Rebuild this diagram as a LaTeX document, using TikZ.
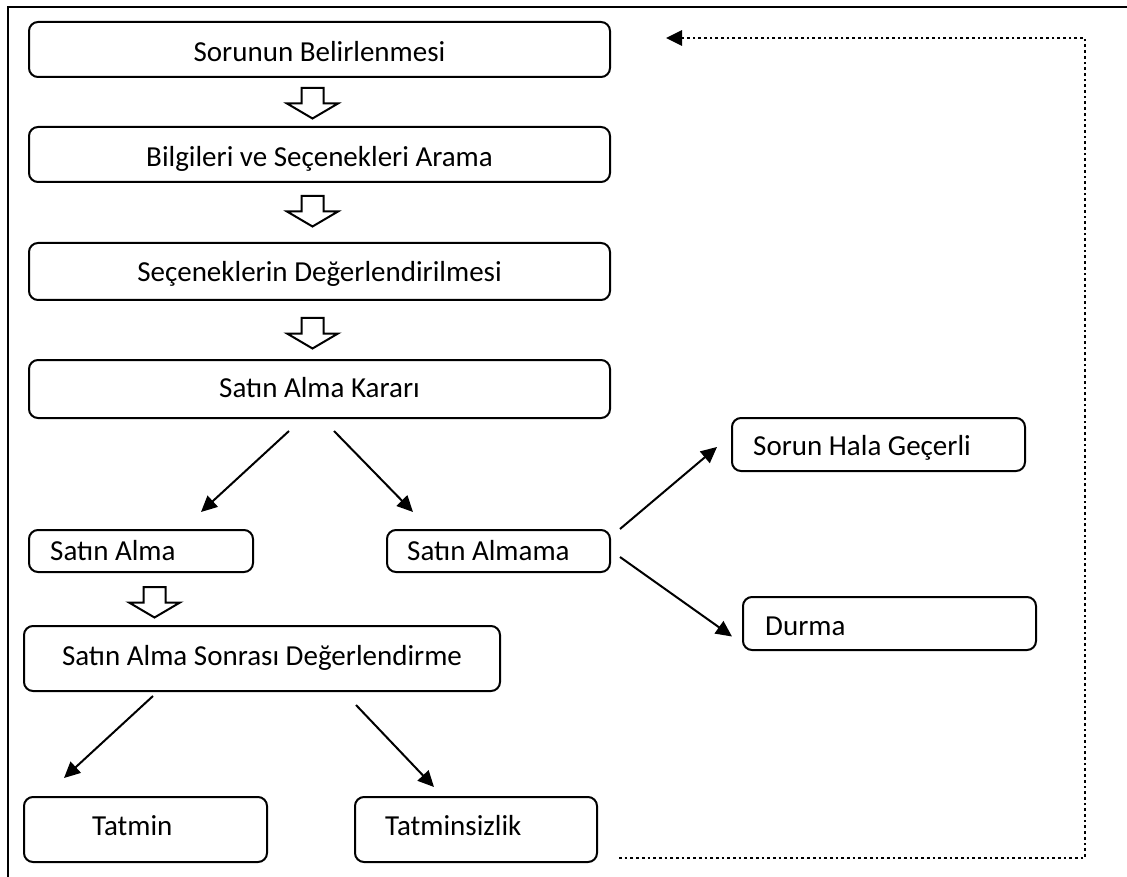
\documentclass[tikz,border=0pt]{standalone}
\usepackage{fontspec}
\setmainfont{Carlito}
\usetikzlibrary{arrows.meta,calc}
\begin{document}
\begin{tikzpicture}[x=1pt,y=-1pt,
  box/.style={draw, line width=2pt, rounded corners=9pt, inner sep=0pt, outer sep=0pt, anchor=north west},
  lbl/.style={font=\fontsize{29}{34}\selectfont, inner sep=0pt, anchor=base},
  lbll/.style={lbl, anchor=base west},
  conn/.style={line width=2pt, -{Triangle[length=16pt,width=15pt]}},
  fback/.style={line width=2.7pt, dash pattern=on 2.7pt off 3pt, -{Triangle[length=16pt,width=15pt]}},
  hollow/.style={draw, line width=2pt, fill=white, line join=miter},
  frame/.style={line width=2.2pt}]
\useasboundingbox (0,0) rectangle (1127,877);

% outer frame (top and left edges)
\draw[frame] (8,877) -- (8,7.3) -- (1127,7.3);

% boxes
\node[box, minimum width=581pt, minimum height=55pt] (b1) at (29,22) {};
\node[box, minimum width=581pt, minimum height=55pt] (b2) at (29,127) {};
\node[box, minimum width=581pt, minimum height=57pt] (b3) at (29,243) {};
\node[box, minimum width=581pt, minimum height=58pt] (b4) at (29,360) {};
\node[box, minimum width=224pt, minimum height=42pt] (sa) at (29,530) {};
\node[box, minimum width=223pt, minimum height=42pt] (sam) at (387,530) {};
\node[box, minimum width=293pt, minimum height=53pt] (shg) at (732,418) {};
\node[box, minimum width=293pt, minimum height=53pt] (dur) at (743,597) {};
\node[box, minimum width=476pt, minimum height=65pt] (sasd) at (24,626) {};
\node[box, minimum width=243pt, minimum height=65pt] (tat) at (24,797) {};
\node[box, minimum width=242pt, minimum height=65pt] (tats) at (355,797) {};

% texts
\node[lbl] (t1) at (319.5,62) {Sorunun Belirlenmesi};
\node[lbl] (t2) at (319.5,167) {Bilgileri ve Seçenekleri Arama};
\node[lbl] (t3) at (319.5,282) {Seçeneklerin Değerlendirilmesi};
\node[lbl] (t4) at (319.5,397) {Satın Alma Kararı};
\node[lbll] (tsa) at (50,560) {Satın Alma};
\node[lbll] (tsam) at (407,560) {Satın Almama};
\node[lbll] (tshg) at (753,455) {Sorun Hala Geçerli};
\node[lbll] (tdur) at (765,635) {Durma};
\node[lbl] (tsasd) at (262,665) {Satın Alma Sonrası Değerlendirme};
\node[lbll] (ttat) at (92,835) {Tatmin};
\node[lbll] (ttats) at (385,835) {Tatminsizlik};

% hollow block arrows
\foreach \cx/\ty in {312.5/88, 312.5/196, 312.5/318, 154.5/587}{
  \draw[hollow] ({\cx-11},\ty) -- ({\cx+11},\ty) -- ({\cx+11},{\ty+15.5}) -- ({\cx+25.5},{\ty+15.5})
    -- (\cx,{\ty+30.5}) -- ({\cx-25.5},{\ty+15.5}) -- ({\cx-11},{\ty+15.5}) -- cycle;
}

% connectors
\draw[conn] ($(b4.south)+(-30.5,13)$) -- ($(sa.north)+(60,-18)$);
\draw[conn] ($(b4.south)+(14.5,13)$) -- ($(sam.north)+(-85.5,-18)$);
\draw[conn] ($(sam.east)+(10,-22)$) -- ($(shg.west)+(-15,2.5)$);
\draw[conn] ($(sam.east)+(10,6)$) -- ($(dur.west)+(-11,13)$);
\draw[conn] ($(sasd.south)+(-109,5)$) -- ($(tat.north)+(-81.5,-19)$);
\draw[conn] ($(sasd.south)+(94,14)$) -- ($(tats.north)+(-42,-10)$);

% feedback loop
\coordinate (fbs) at ($(tats.south east)+(22,-4)$);
\coordinate (fbc1) at (1085,858);
\coordinate (fbc2) at (1085,38);
\coordinate (fbe) at (666,38);
\draw[fback] (fbs) -- (fbc1) -- (fbc2) -- (fbe);
\end{tikzpicture}
\end{document}
